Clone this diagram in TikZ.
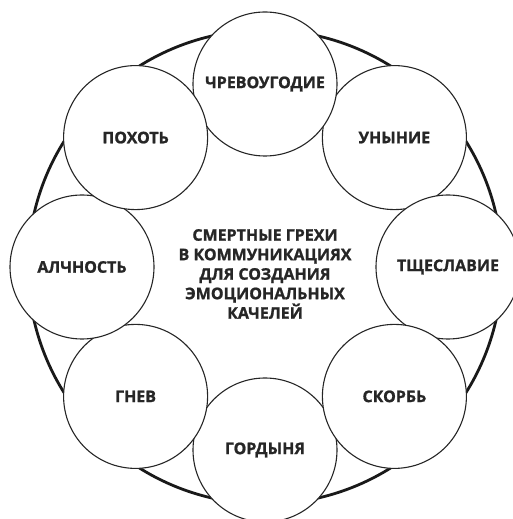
\documentclass[tikz,border=0pt]{standalone}
\usepackage{fontspec}
\setmainfont{Open Sans}[BoldFeatures={FakeBold=1.2}]
\usepackage{tikz}
\usetikzlibrary{positioning}
\tikzset{
  sinball/.style={circle,draw=black!85,fill=white,line width=1.1pt,
    minimum size=144pt,inner sep=0pt,text=black!85,
    font=\fontsize{16}{20}\selectfont\bfseries},
}
\begin{document}
\begin{tikzpicture}[x=1pt,y=1pt]
  \useasboundingbox (0,0) rectangle (513,519);
  \coordinate (c) at (265,252);
  \node[circle,draw=black!90,line width=2.8pt,minimum size=474pt,inner sep=0pt] (ring) at (c) {};
  % outer circles, in stacking order
  \foreach \ang/\nm/\txt in {45/unyn/УНЫНИЕ, -90/gord/ГОРДЫНЯ, 0/tshch/ТЩЕСЛАВИЕ,
      -45/skor/СКОРБЬ, -135/gnev/ГНЕВ, 180/alch/АЛЧНОСТЬ,
      90/chrev/ЧРЕВОУГОДИЕ, 135/poh/ПОХОТЬ}
    \node[sinball] (\nm) at ([shift={(\ang:183)}]c) {\txt};
  \node[align=center,text=black!85,font=\fontsize{16}{19.5}\selectfont\bfseries]
    (title) at ([yshift=-7pt]c)
    {СМЕРТНЫЕ ГРЕХИ\\В КОММУНИКАЦИЯХ\\ДЛЯ СОЗДАНИЯ\\ЭМОЦИОНАЛЬНЫХ\\КАЧЕЛЕЙ};
\end{tikzpicture}
\end{document}
